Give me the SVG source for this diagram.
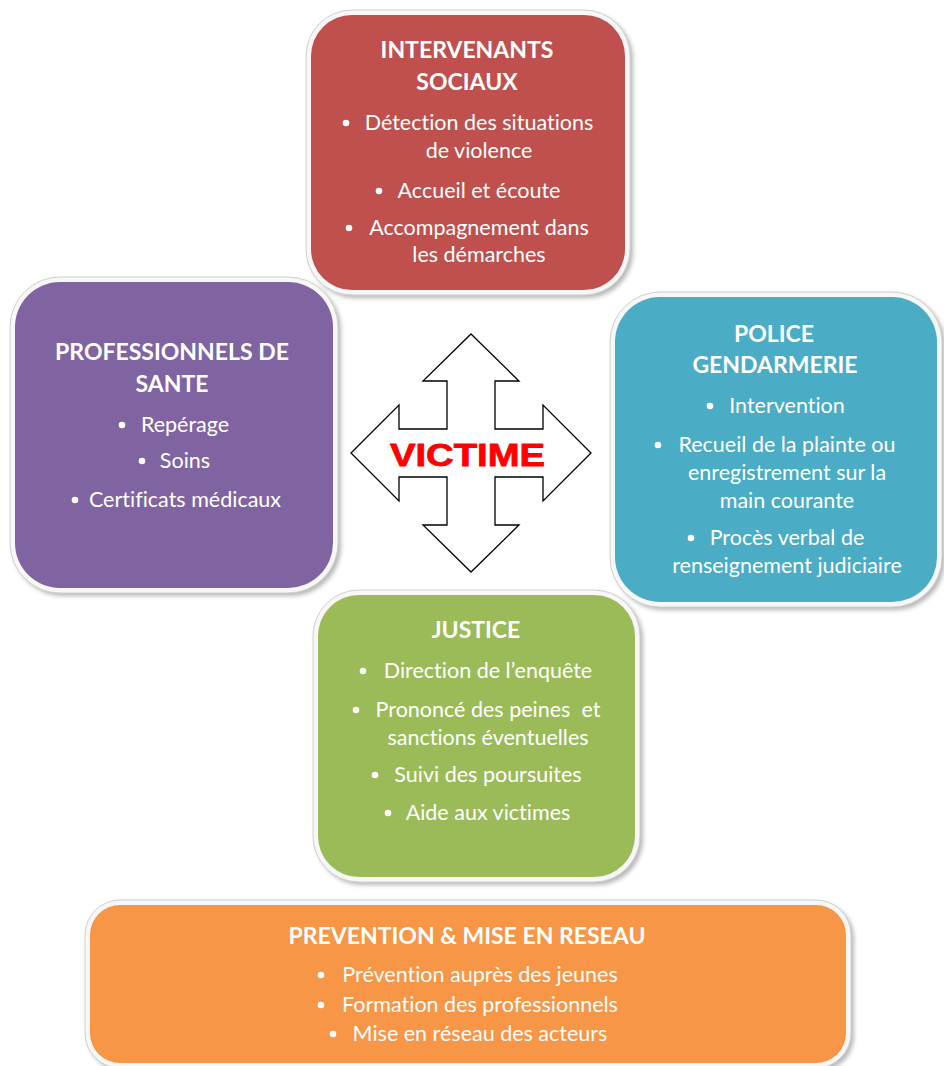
<svg xmlns="http://www.w3.org/2000/svg" width="944" height="1066" viewBox="0 0 944 1066">
  <defs>
    <filter id="shadow" x="-10%" y="-10%" width="120%" height="120%">
      <feGaussianBlur stdDeviation="2"/>
    </filter>
    <style>
      .shadow { fill: #7f7f7f; opacity: 0.55; filter: url(#shadow); }
      .frame { fill: #f7f7f7; stroke: #d0d0d0; stroke-width: 1; }
      .title { font-family: Lato, "Liberation Sans", sans-serif; font-weight: bold; font-size: 23px; fill: #ffffff; text-anchor: middle; font-variant-ligatures: none; }
      .item { font-family: Lato, "Liberation Sans", sans-serif; font-size: 21.5px; fill: #ffffff; text-anchor: middle; font-variant-ligatures: none; }
      .dot { fill: #ffffff; }
      .arrow { fill: #ffffff; stroke: #000000; stroke-width: 1.3; stroke-linejoin: miter; }
      .victime { font-family: "Liberation Sans", Arial, sans-serif; font-weight: bold; font-size: 31px; fill: #ff0000; stroke: #ff0000; stroke-width: 0.8; }
    </style>
  </defs>
  <rect width="944" height="1066" fill="#ffffff"/>

  <!-- central four-way arrow -->
  <g id="victime">
    <path class="arrow" d="M471,334 L519,381 L495,381 L495,429 L543,429 L543,405 L591,453 L543,501 L543,477 L495,477 L495,525 L519,525 L471,572 L423,525 L447,525 L447,477 L399,477 L399,501 L351,453 L399,405 L399,429 L447,429 L447,381 L423,381 Z"/>
    <text class="victime" x="390" y="466" textLength="155" lengthAdjust="spacingAndGlyphs">VICTIME</text>
  </g>

  <g id="connectors"></g>

  <!-- INTERVENANTS SOCIAUX -->
  <g id="intervenants">
    <rect class="shadow" x="309" y="13" width="324" height="285" rx="46"/>
    <rect class="frame" x="306" y="10" width="324" height="285" rx="46"/>
    <rect x="311" y="15" width="314" height="275" rx="41" fill="#C0504D"/>
    <text class="title" x="467" y="58">INTERVENANTS</text>
    <text class="title" x="467" y="90">SOCIAUX</text>
    <circle class="dot" cx="346" cy="123" r="3.3"/>
    <text class="item" x="479" y="130">Détection des situations</text>
    <text class="item" x="479" y="158">de violence</text>
    <circle class="dot" cx="379" cy="191" r="3.3"/>
    <text class="item" x="479" y="198">Accueil et écoute</text>
    <circle class="dot" cx="349" cy="228" r="3.3"/>
    <text class="item" x="479" y="235">Accompagnement dans</text>
    <text class="item" x="479" y="262">les démarches</text>
  </g>

  <!-- PROFESSIONNELS DE SANTE -->
  <g id="sante">
    <rect class="shadow" x="13" y="280" width="328" height="316" rx="50"/>
    <rect class="frame" x="10" y="277" width="328" height="316" rx="50"/>
    <rect x="15" y="282" width="318" height="306" rx="45" fill="#8064A2"/>
    <text class="title" x="172" y="360">PROFESSIONNELS DE</text>
    <text class="title" x="172" y="392">SANTE</text>
    <circle class="dot" cx="122" cy="425" r="3.3"/>
    <text class="item" x="185" y="432">Repérage</text>
    <circle class="dot" cx="142" cy="461" r="3.3"/>
    <text class="item" x="185" y="468">Soins</text>
    <circle class="dot" cx="75" cy="500" r="3.3"/>
    <text class="item" x="185" y="507">Certificats médicaux</text>
  </g>

  <!-- POLICE GENDARMERIE -->
  <g id="police">
    <rect class="shadow" x="613" y="295" width="332" height="315" rx="50"/>
    <rect class="frame" x="610" y="292" width="332" height="315" rx="50"/>
    <rect x="615" y="297" width="322" height="305" rx="45" fill="#4BACC6"/>
    <text class="title" x="774" y="342">POLICE</text>
    <text class="title" x="775" y="373">GENDARMERIE</text>
    <circle class="dot" cx="710" cy="406" r="3.3"/>
    <text class="item" x="787" y="413">Intervention</text>
    <circle class="dot" cx="658" cy="445" r="3.3"/>
    <text class="item" x="787" y="452">Recueil de la plainte ou</text>
    <text class="item" x="787" y="480">enregistrement sur la</text>
    <text class="item" x="787" y="508">main courante</text>
    <circle class="dot" cx="691" cy="538" r="3.3"/>
    <text class="item" x="787" y="545">Procès verbal de</text>
    <text class="item" x="787" y="573">renseignement judiciaire</text>
  </g>

  <!-- JUSTICE -->
  <g id="justice">
    <rect class="shadow" x="316" y="593" width="327" height="292" rx="46"/>
    <rect class="frame" x="313" y="590" width="327" height="292" rx="46"/>
    <rect x="318" y="595" width="317" height="282" rx="41" fill="#9BBB59"/>
    <text class="title" x="476" y="638">JUSTICE</text>
    <circle class="dot" cx="363" cy="671" r="3.3"/>
    <text class="item" x="488" y="678">Direction de l’enquête</text>
    <circle class="dot" cx="356" cy="710" r="3.3"/>
    <text class="item" x="488" y="717" xml:space="preserve">Prononcé des peines  et</text>
    <text class="item" x="488" y="745">sanctions éventuelles</text>
    <circle class="dot" cx="375" cy="775" r="3.3"/>
    <text class="item" x="488" y="782">Suivi des poursuites</text>
    <circle class="dot" cx="388" cy="813" r="3.3"/>
    <text class="item" x="488" y="820">Aide aux victimes</text>
  </g>

  <!-- PREVENTION & MISE EN RESEAU -->
  <g id="prevention">
    <rect class="shadow" x="88" y="903" width="766" height="168" rx="35"/>
    <rect class="frame" x="85" y="900" width="766" height="168" rx="35"/>
    <rect x="90" y="905" width="756" height="158" rx="30" fill="#F79646"/>
    <text class="title" x="467" y="944">PREVENTION &amp; MISE EN RESEAU</text>
    <circle class="dot" cx="321" cy="975" r="3.3"/>
    <text class="item" x="480" y="982">Prévention auprès des jeunes</text>
    <circle class="dot" cx="321" cy="1005" r="3.3"/>
    <text class="item" x="480" y="1012">Formation des professionnels</text>
    <circle class="dot" cx="333" cy="1034" r="3.3"/>
    <text class="item" x="480" y="1041">Mise en réseau des acteurs</text>
  </g>
</svg>
